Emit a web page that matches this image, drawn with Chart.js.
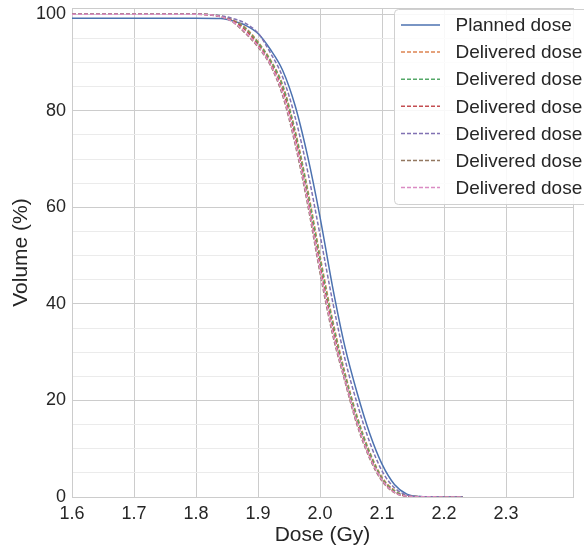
<!DOCTYPE html>
<html>
<head>
<meta charset="utf-8">
<script src="https://cdn.jsdelivr.net/npm/chart.js@4.4.1/dist/chart.umd.min.js"></script>
<style>
  html, body { margin: 0; padding: 0; background: #fff; }
  #wrap { width: 584px; height: 547px; }
</style>
</head>
<body>
<div id="wrap"><canvas id="myChart" width="584" height="547"></canvas></div>
<script>
// dose grid (Gy) shared by all curves
const doses = [1.60, 1.80, 1.84, 1.86, 1.88, 1.90, 1.92, 1.94, 1.96, 1.98, 2.00, 2.02, 2.04, 2.06, 2.08, 2.10, 2.12, 2.14, 2.16, 2.18, 2.20, 2.23];

// volume (%) for each curve
const planned    = [99.2, 99.2, 99.1, 98.6, 97.7, 96.0, 92.7, 88.3, 81.0, 70.6, 58.0, 43.7, 31.2, 21.5, 13.2, 6.8, 2.6, 0.6, 0.1, 0.05, 0.02, 0];
const delivered1 = [100, 100, 99.6, 98.8, 97.2, 94.3, 90.6, 85.3, 75.9, 63.8, 50.0, 36.9, 25.9, 16.7, 9.4, 4.1, 1.4, 0.25, 0.08, 0.03, 0.01, 0];
const delivered2 = [100, 100, 99.6, 98.7, 97.0, 94.1, 90.4, 85.0, 75.5, 63.2, 49.3, 36.3, 25.4, 16.3, 9.1, 3.9, 1.25, 0.22, 0.07, 0.03, 0.01, 0];
const delivered3 = [100, 100, 99.5, 98.6, 96.7, 93.7, 89.9, 84.2, 74.5, 61.9, 48.0, 35.2, 24.5, 15.4, 8.5, 3.6, 1.0, 0.18, 0.06, 0.02, 0.01, 0];
const delivered4 = [100, 100, 99.7, 99.1, 98.1, 96.1, 92.0, 86.9, 78.6, 67.5, 54.3, 40.7, 28.7, 19.3, 11.4, 5.4, 1.9, 0.4, 0.1, 0.04, 0.02, 0];
const delivered5 = [100, 100, 99.5, 98.3, 96.0, 93.2, 89.4, 83.0, 73.0, 60.6, 46.4, 33.8, 24.0, 14.8, 8.0, 3.3, 0.9, 0.15, 0.05, 0.02, 0.01, 0];
const delivered6 = [100, 100, 99.5, 98.4, 96.2, 93.4, 89.6, 83.5, 73.6, 61.3, 47.1, 34.4, 24.4, 15.2, 8.3, 3.5, 0.95, 0.17, 0.06, 0.03, 0.02, 0];

const seriesNames = ['Planned dose', 'Delivered dose', 'Delivered dose', 'Delivered dose', 'Delivered dose', 'Delivered dose', 'Delivered dose'];
const seriesValues = [planned, delivered1, delivered2, delivered3, delivered4, delivered5, delivered6];
const colors = ['#4c72b0', '#dd8452', '#55a868', '#c44e52', '#8172b3', '#937860', '#da8bc3'];

const xTicks = [1.6, 1.7, 1.8, 1.9, 2.0, 2.1, 2.2, 2.3];
const yTicks = [0, 5, 10, 15, 20, 25, 30, 35, 40, 45, 50, 55, 60, 65, 70, 75, 80, 85, 90, 95, 100];
const yLabels = [0, 20, 40, 60, 80, 100];

const FONT = "'Liberation Sans', Arial, sans-serif";
const TEXT = '#262626';

const datasets = seriesValues.map((vals, i) => ({
    label: seriesNames[i],
    data: doses.map((d, j) => ({ x: d, y: vals[j] })),
    borderColor: colors[i],
    borderWidth: 1.5,
    borderDash: i === 0 ? [] : [4, 2],
    pointRadius: 0,
    fill: false,
    cubicInterpolationMode: 'monotone',
    order: seriesValues.length - i
}));

// frame round the plot, and the legend box inside it
const framePlugin = {
    id: 'frame',
    beforeDatasetsDraw(chart) {
        const { ctx, chartArea: a } = chart;
        ctx.save();
        ctx.strokeStyle = '#cccccc';
        ctx.lineWidth = 1;
        ctx.strokeRect(a.left + 0.5, a.top + 0.5, a.right - a.left, a.bottom - a.top);
        ctx.restore();
    }
};

const legendPlugin = {
    id: 'boxLegend',
    afterDraw(chart) {
        const ctx = chart.ctx;
        const x0 = 394, y0 = 9, w = 200, h = 195, r = 4;
        ctx.save();
        ctx.beginPath();
        ctx.roundRect(x0 + 0.5, y0 + 0.5, w, h, r);
        ctx.fillStyle = 'rgba(255,255,255,0.85)';
        ctx.fill();
        ctx.strokeStyle = '#d0d0d0';
        ctx.lineWidth = 1;
        ctx.stroke();
        ctx.font = '19px ' + FONT;
        ctx.textBaseline = 'middle';
        chart.data.datasets.forEach((ds, i) => {
            const y = 25 + i * 27.1;
            ctx.beginPath();
            ctx.setLineDash(ds.borderDash);
            ctx.strokeStyle = ds.borderColor;
            ctx.lineWidth = 1.5;
            ctx.moveTo(401, y);
            ctx.lineTo(440, y);
            ctx.stroke();
            ctx.setLineDash([]);
            ctx.fillStyle = TEXT;
            ctx.fillText(ds.label, 455.5, y + 1);
        });
        ctx.restore();
    }
};

const ctx = document.getElementById('myChart').getContext('2d');
const myChart = new Chart(ctx, {
    type: 'line',
    data: { datasets: datasets },
    plugins: [framePlugin, legendPlugin],
    options: {
        responsive: false,
        animation: false,
        layout: { padding: { top: 8, right: 11, left: 0, bottom: 0 } },
        plugins: { legend: { display: false }, tooltip: { enabled: false } },
        scales: {
            x: {
                type: 'linear',
                min: 1.6,
                max: 2.408,
                afterFit(scale) {
                    scale.height = 50;
                    scale.paddingLeft = 0;
                    scale.paddingRight = 0;
                },
                afterBuildTicks(scale) { scale.ticks = xTicks.map(v => ({ value: v })); },
                ticks: {
                    color: TEXT,
                    font: { family: FONT, size: 18 },
                    padding: 6,
                    maxRotation: 0,
                    callback: v => v.toFixed(1)
                },
                grid: { color: '#cccccc', lineWidth: 1, drawTicks: false },
                border: { color: '#cccccc' },
                title: {
                    display: true,
                    text: 'Dose (Gy)',
                    color: TEXT,
                    font: { family: FONT, size: 21, lineHeight: 1 },
                    padding: { top: 0, bottom: 1 }
                }
            },
            y: {
                min: 0,
                max: 101.3,
                afterFit(scale) {
                    scale.width = 72;
                    scale.paddingTop = 0;
                    scale.paddingBottom = 0;
                },
                afterBuildTicks(scale) { scale.ticks = yTicks.map(v => ({ value: v })); },
                ticks: {
                    color: TEXT,
                    font: { family: FONT, size: 18 },
                    padding: 6,
                    autoSkip: false,
                    callback: v => yLabels.includes(v) ? String(v) : ''
                },
                grid: {
                    color: c => (c.tick && c.tick.value % 20 === 0) ? '#cccccc' : '#ebebeb',
                    lineWidth: 1,
                    drawTicks: false
                },
                border: { color: '#cccccc' },
                title: {
                    display: true,
                    text: 'Volume (%)',
                    color: TEXT,
                    font: { family: FONT, size: 21, lineHeight: 1 },
                    padding: { top: 11, bottom: 0 }
                }
            }
        }
    }
});
</script>
</body>
</html>
